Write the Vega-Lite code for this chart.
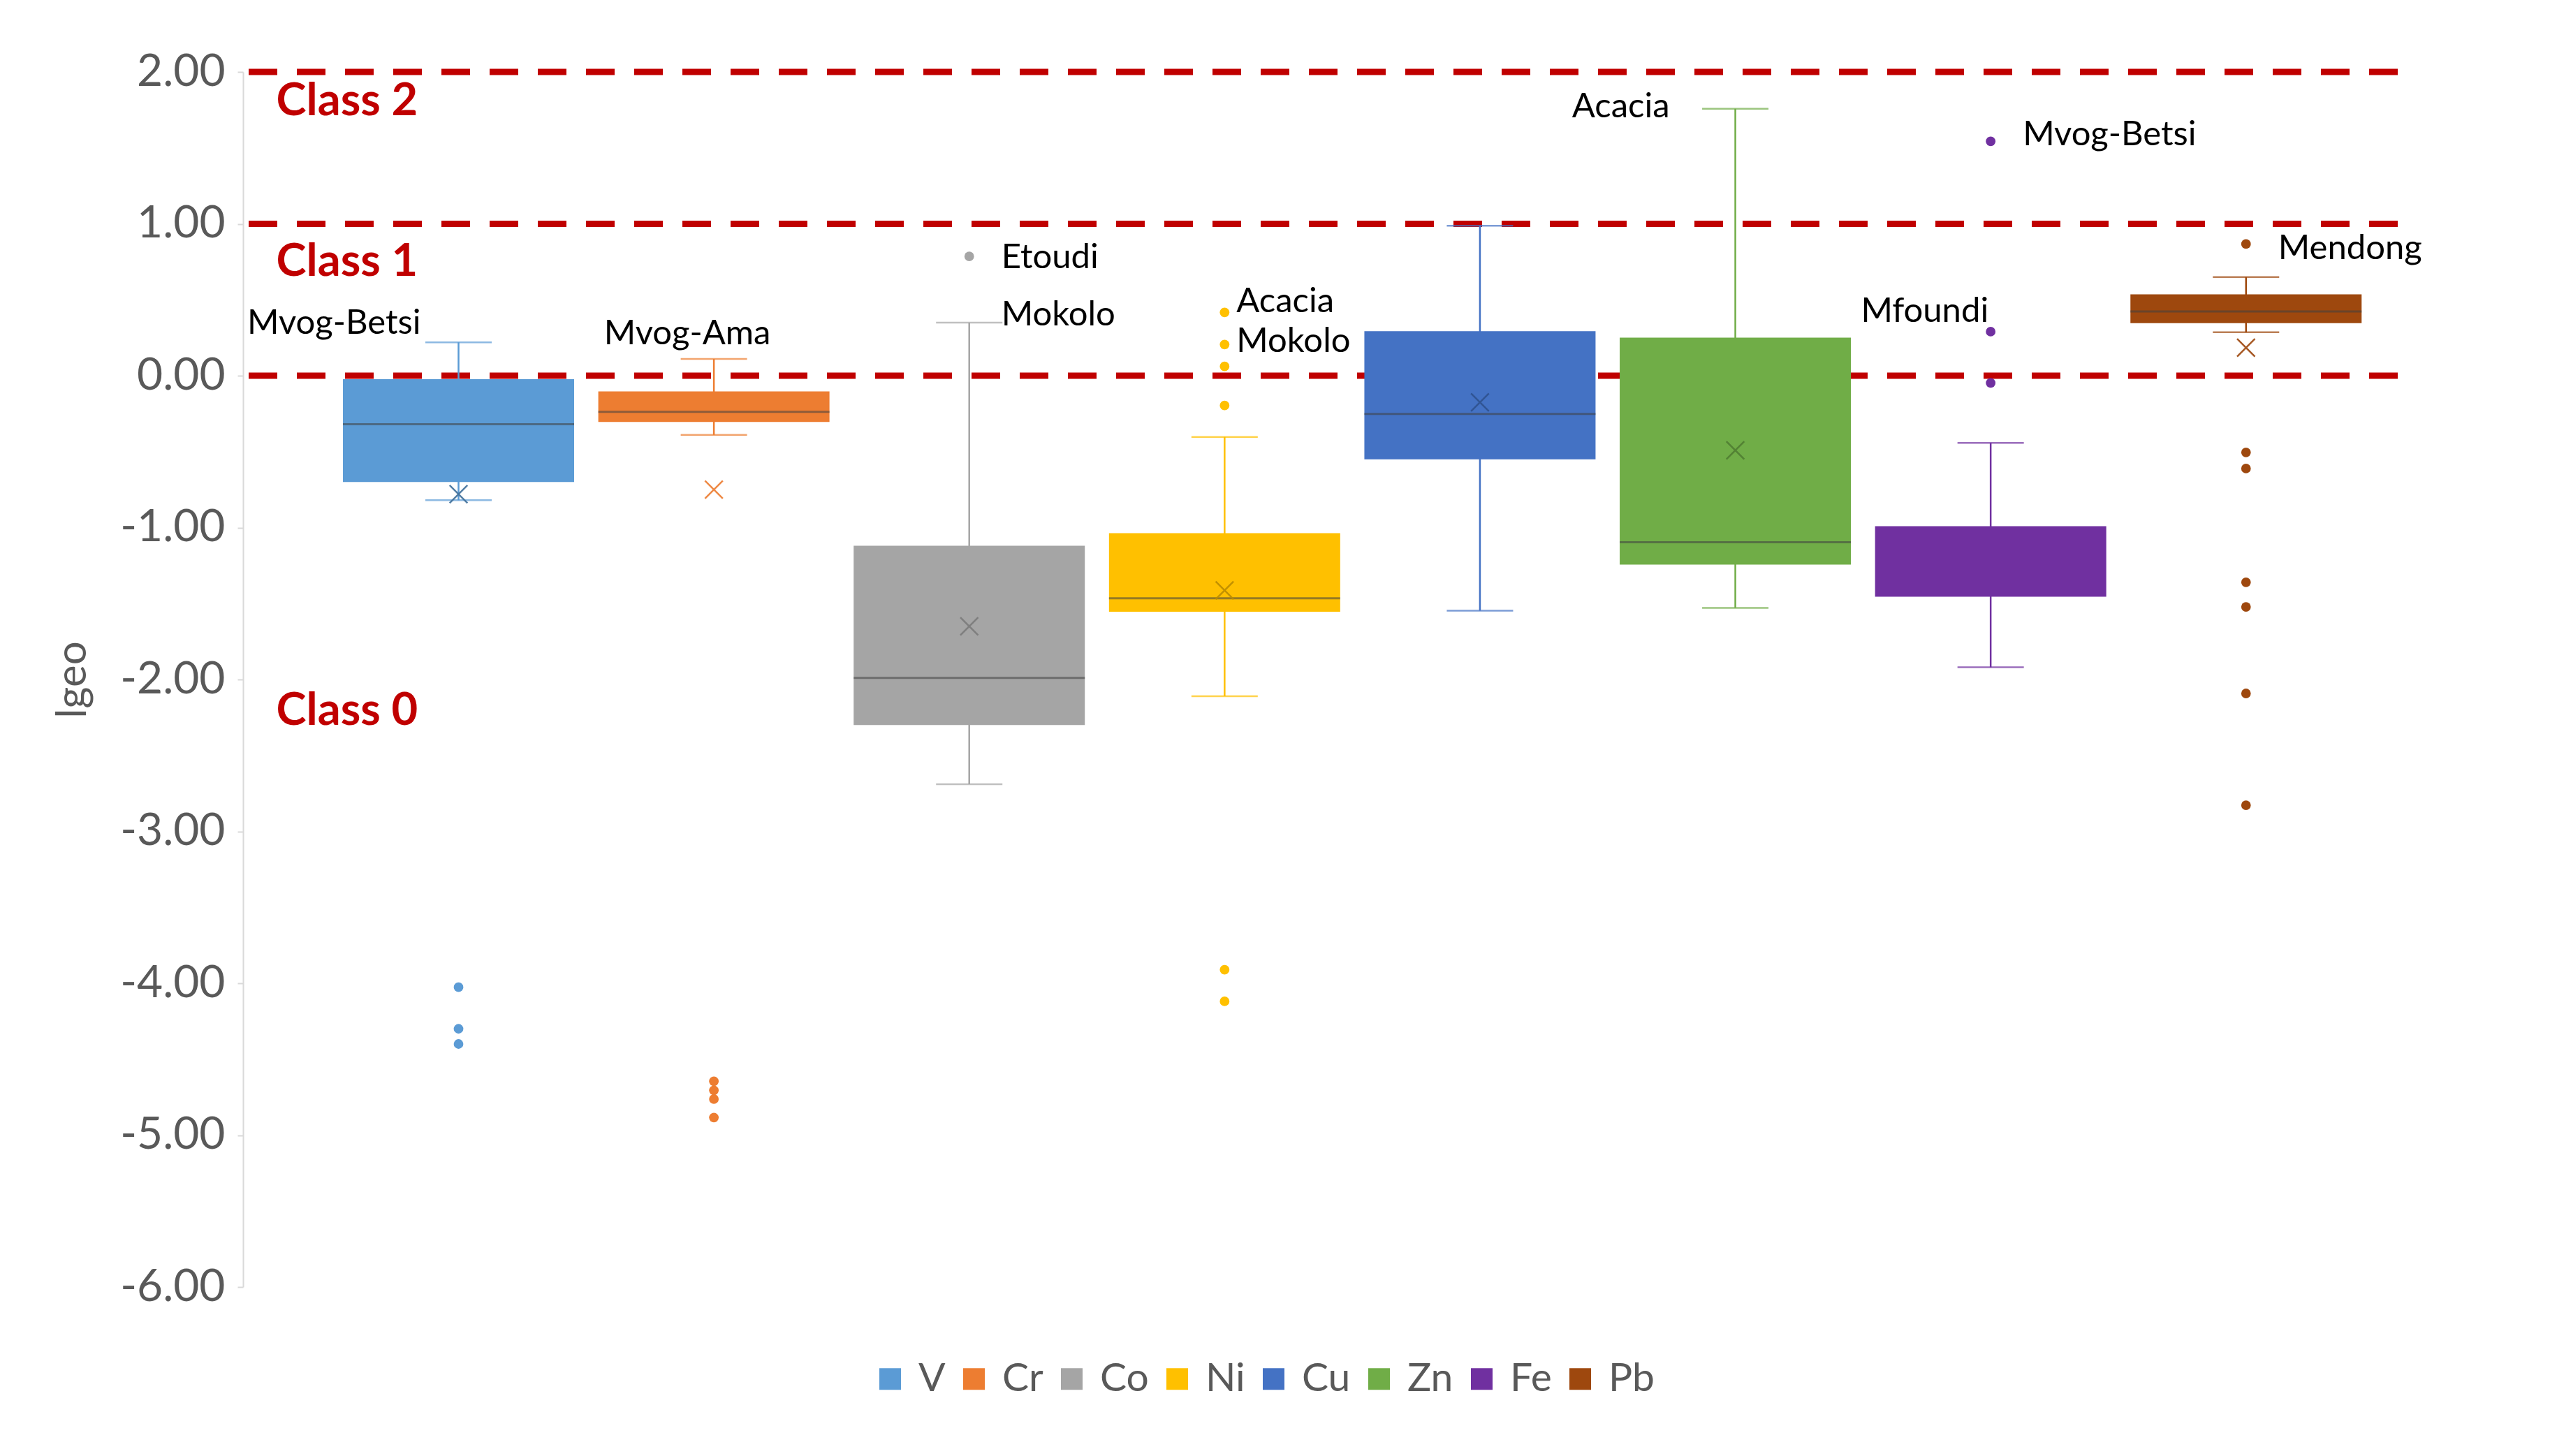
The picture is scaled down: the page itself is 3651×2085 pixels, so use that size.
{
  "$schema": "https://vega.github.io/schema/vega-lite/v6.json",
  "autosize": "none",
  "width": 3085,
  "height": 1740,
  "padding": {"left": 348, "top": 103, "right": 218, "bottom": 242},
  "background": "white",
  "config": {
    "view": {"stroke": null},
    "font": "Lato",
    "locale": {"number": {"decimal": ".", "thousands": ",", "grouping": [3], "currency": ["$", ""], "minus": "-"}}
  },
  "datasets": {
    "stats": [
      {"element": "V", "lower": -0.82, "q1": -0.70, "median": -0.32, "q3": -0.023, "upper": 0.22, "mean": -0.78},
      {"element": "Cr", "lower": -0.39, "q1": -0.305, "median": -0.238, "q3": -0.104, "upper": 0.11, "mean": -0.75},
      {"element": "Co", "lower": -2.69, "q1": -2.30, "median": -1.99, "q3": -1.12, "upper": 0.35, "mean": -1.65},
      {"element": "Ni", "lower": -2.11, "q1": -1.554, "median": -1.466, "q3": -1.037, "upper": -0.403, "mean": -1.413},
      {"element": "Cu", "lower": -1.547, "q1": -0.551, "median": -0.252, "q3": 0.293, "upper": 0.987, "mean": -0.175},
      {"element": "Zn", "lower": -1.529, "q1": -1.244, "median": -1.097, "q3": 0.251, "upper": 1.757, "mean": -0.491},
      {"element": "Fe", "lower": -1.92, "q1": -1.455, "median": null, "q3": -0.991, "upper": -0.442, "mean": null},
      {"element": "Pb", "lower": 0.286, "q1": 0.346, "median": 0.423, "q3": 0.536, "upper": 0.649, "mean": 0.184}
    ],
    "outliers": [
      {"element": "V", "value": -4.026}, {"element": "V", "value": -4.30}, {"element": "V", "value": -4.40},
      {"element": "Cr", "value": -4.645}, {"element": "Cr", "value": -4.705}, {"element": "Cr", "value": -4.763}, {"element": "Cr", "value": -4.884},
      {"element": "Co", "value": 0.786},
      {"element": "Ni", "value": 0.417}, {"element": "Ni", "value": 0.205}, {"element": "Ni", "value": 0.061}, {"element": "Ni", "value": -0.196},
      {"element": "Ni", "value": -3.911}, {"element": "Ni", "value": -4.119},
      {"element": "Fe", "value": 1.543}, {"element": "Fe", "value": 0.29}, {"element": "Fe", "value": -0.048},
      {"element": "Pb", "value": 0.867}, {"element": "Pb", "value": -0.505}, {"element": "Pb", "value": -0.611},
      {"element": "Pb", "value": -1.36}, {"element": "Pb", "value": -1.522}, {"element": "Pb", "value": -2.092}, {"element": "Pb", "value": -2.828}
    ],
    "labels": [
      {"element": "V", "label": "Mvog-Betsi", "value": 0.346},
      {"element": "Cr", "label": "Mvog-Ama", "value": 0.277},
      {"element": "Co", "label": "Etoudi", "value": 0.776},
      {"element": "Co", "label": "Mokolo", "value": 0.399},
      {"element": "Ni", "label": "Acacia", "value": 0.487},
      {"element": "Ni", "label": "Mokolo", "value": 0.223},
      {"element": "Zn", "label": "Acacia", "value": 1.771},
      {"element": "Fe", "label": "Mvog-Betsi", "value": 1.588},
      {"element": "Fe", "label": "Mfoundi", "value": 0.423},
      {"element": "Pb", "label": "Mendong", "value": 0.839}
    ],
    "thresholds": [{"value": 0}, {"value": 1}, {"value": 2}],
    "classes": [
      {"label": "Class 2", "value": 1.806},
      {"label": "Class 1", "value": 0.751},
      {"label": "Class 0", "value": -2.205}
    ]
  },
  "encoding": {
    "x": {
      "field": "element", "type": "nominal",
      "scale": {"domain": ["V", "Cr", "Co", "Ni", "Cu", "Zn", "Fe", "Pb"], "paddingInner": 0, "paddingOuter": 0.219, "align": 0.785},
      "axis": null
    }
  },
  "layer": [
    {
      "data": {"name": "thresholds"},
      "mark": {"type": "rule", "color": "#C00000", "strokeWidth": 9, "strokeDash": [41, 28]},
      "encoding": {
        "x": null,
        "y": {
          "field": "value", "type": "quantitative",
          "scale": {"domain": [-6, 2], "nice": false, "zero": false},
          "axis": {
            "values": [-6, -5, -4, -3, -2, -1, 0, 1, 2],
            "format": ".2f",
            "grid": false,
            "title": "lgeo",
            "titleFontSize": 60,
            "titleFontWeight": "normal",
            "titleColor": "#595959",
            "titlePadding": 36,
            "labelFontSize": 64,
            "labelColor": "#595959",
            "labelPadding": 18,
            "domainColor": "#D9D9D9",
            "domainWidth": 2,
            "tickColor": "#D9D9D9",
            "tickSize": 8,
            "tickWidth": 2
          }
        }
      }
    },
    {
      "data": {"name": "classes"},
      "mark": {"type": "text", "color": "#C00000", "fontSize": 65, "fontWeight": "bold", "align": "left", "baseline": "middle", "dx": -261},
      "encoding": {
        "x": {"datum": "V"},
        "y": {"field": "value", "type": "quantitative"},
        "text": {"field": "label"}
      }
    },
    {
      "data": {"name": "stats"},
      "mark": {"type": "bar", "size": 2.5},
      "encoding": {
        "y": {"field": "lower", "type": "quantitative"},
        "y2": {"field": "upper"},
        "fill": {"field": "element", "type": "nominal"}
      }
    },
    {
      "data": {"name": "stats"},
      "mark": {"type": "tick", "size": 95, "thickness": 2.5},
      "encoding": {
        "y": {"field": "lower", "type": "quantitative"},
        "fill": {"field": "element", "type": "nominal"}
      }
    },
    {
      "data": {"name": "stats"},
      "mark": {"type": "tick", "size": 95, "thickness": 2.5},
      "encoding": {
        "y": {"field": "upper", "type": "quantitative"},
        "fill": {"field": "element", "type": "nominal"}
      }
    },
    {
      "data": {"name": "stats"},
      "mark": {"type": "bar", "size": 331},
      "encoding": {
        "y": {"field": "q1", "type": "quantitative"},
        "y2": {"field": "q3"},
        "fill": {
          "field": "element", "type": "nominal",
          "scale": {"domain": ["V", "Cr", "Co", "Ni", "Cu", "Zn", "Fe", "Pb"], "range": ["#5B9BD5", "#ED7D31", "#A5A5A5", "#FFC000", "#4472C4", "#70AD47", "#7030A0", "#9E480E"]},
          "legend": {
            "title": null,
            "orient": "none",
            "legendX": 898,
            "legendY": 1843,
            "direction": "horizontal",
            "symbolType": "square",
            "symbolSize": 960,
            "symbolStrokeWidth": 0,
            "symbolOpacity": 1,
            "labelFontSize": 57,
            "labelColor": "#595959",
            "labelOffset": 12,
            "columnPadding": 12,
            "encode": {"symbols": {"update": {"fillOpacity": {"value": 1}, "opacity": {"value": 1}}}}
          }
        }
      }
    },
    {
      "data": {"name": "stats"},
      "mark": {"type": "tick", "size": 331, "thickness": 3, "opacity": 0.55},
      "encoding": {
        "y": {"field": "median", "type": "quantitative"},
        "fill": {"value": "#404040"}
      }
    },
    {
      "data": {"name": "stats"},
      "mark": {"type": "point", "shape": "M-1,-1L1,1M-1,1L1,-1", "filled": false, "size": 650, "strokeWidth": 2.5},
      "encoding": {
        "y": {"field": "mean", "type": "quantitative"},
        "color": {"field": "element", "type": "nominal", "scale": {"domain": ["V", "Cr", "Co", "Ni", "Cu", "Zn", "Fe", "Pb"], "range": ["#41719C", "#ED7D31", "#7B7B7B", "#BC8C00", "#2F528F", "#507E32", "#7030A0", "#9E480E"]}, "legend": null},
        "opacity": {"value": 0.9}
      }
    },
    {
      "data": {"name": "outliers"},
      "mark": {"type": "circle", "size": 190, "opacity": 1},
      "encoding": {
        "y": {"field": "value", "type": "quantitative"},
        "fill": {"field": "element", "type": "nominal"}
      }
    },
    {
      "data": {"name": "labels"},
      "transform": [{"filter": "datum.element == 'V'"}],
      "mark": {"type": "text", "fontSize": 49, "color": "black", "align": "right", "baseline": "middle", "dx": -54},
      "encoding": {"y": {"field": "value", "type": "quantitative"}, "text": {"field": "label"}}
    },
    {
      "data": {"name": "labels"},
      "transform": [{"filter": "datum.element == 'Cr'"}],
      "mark": {"type": "text", "fontSize": 49, "color": "black", "align": "center", "baseline": "middle", "dx": -38},
      "encoding": {"y": {"field": "value", "type": "quantitative"}, "text": {"field": "label"}}
    },
    {
      "data": {"name": "labels"},
      "transform": [{"filter": "datum.element == 'Ni'"}],
      "mark": {"type": "text", "fontSize": 49, "color": "black", "align": "left", "baseline": "middle", "dx": 17},
      "encoding": {"y": {"field": "value", "type": "quantitative"}, "text": {"field": "label"}}
    },
    {
      "data": {"name": "labels"},
      "transform": [{"filter": "datum.element == 'Co' || datum.element == 'Pb' || (datum.element == 'Fe' && datum.label == 'Mvog-Betsi')"}],
      "mark": {"type": "text", "fontSize": 49, "color": "black", "align": "left", "baseline": "middle", "dx": 46},
      "encoding": {"y": {"field": "value", "type": "quantitative"}, "text": {"field": "label"}}
    },
    {
      "data": {"name": "labels"},
      "transform": [{"filter": "datum.element == 'Zn'"}],
      "mark": {"type": "text", "fontSize": 49, "color": "black", "align": "right", "baseline": "middle", "dx": -94},
      "encoding": {"y": {"field": "value", "type": "quantitative"}, "text": {"field": "label"}}
    },
    {
      "data": {"name": "labels"},
      "transform": [{"filter": "datum.element == 'Fe' && datum.label == 'Mfoundi'"}],
      "mark": {"type": "text", "fontSize": 49, "color": "black", "align": "right", "baseline": "middle", "dx": -3},
      "encoding": {"y": {"field": "value", "type": "quantitative"}, "text": {"field": "label"}}
    }
  ]
}
